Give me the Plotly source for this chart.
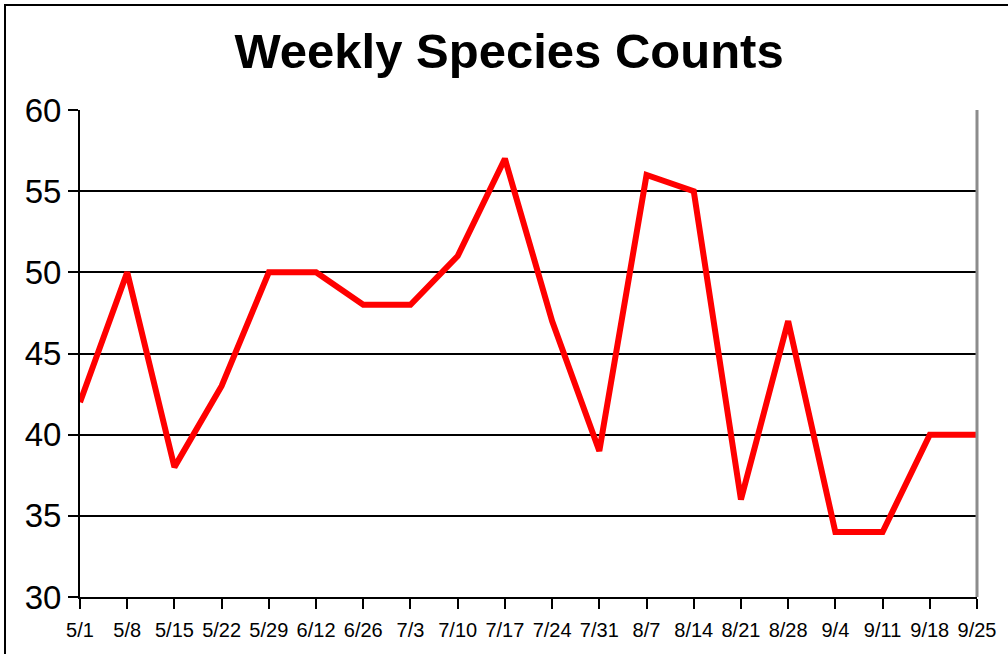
import plotly.graph_objects as go

weeks = ["5/1", "5/8", "5/15", "5/22", "5/29", "6/12", "6/26", "7/3", "7/10", "7/17",
         "7/24", "7/31", "8/7", "8/14", "8/21", "8/28", "9/4", "9/11", "9/18", "9/25"]
species = [42, 50, 38, 43, 50, 50, 48, 48, 51, 57,
           47, 39, 56, 55, 36, 47, 34, 34, 40, 40]
y_ticks = [30, 35, 40, 45, 50, 55, 60]

FONT = "Liberation Sans, Arial, sans-serif"

fig = go.Figure()
fig.add_trace(go.Scatter(
    x=weeks, y=species, mode="lines",
    line=dict(color="#ff0000", width=6),
    cliponaxis=False,
))

fig.update_layout(
    width=1008, height=654,
    margin=dict(l=80, r=31, t=110, b=57),
    paper_bgcolor="white", plot_bgcolor="white",
    showlegend=False,
    title=dict(text="<b>Weekly Species Counts</b>", x=0.505, xanchor="center",
               y=0.923, yanchor="middle",
               font=dict(family=FONT, size=49, color="black")),
    font=dict(family=FONT, color="black"),
)

fig.update_xaxes(
    type="category", range=[0, len(weeks) - 1],
    showgrid=False, showline=True, linecolor="black", linewidth=2,
    ticks="outside", ticklen=10, tickwidth=2, tickcolor="black",
    tickfont=dict(size=20), tickangle=0, zeroline=False,
    ticklabelstandoff=4,
)
fig.update_yaxes(
    range=[30, 60], tickvals=y_ticks,
    showgrid=True, gridcolor="black", gridwidth=1.5,
    showline=True, linecolor="black", linewidth=2,
    ticks="outside", ticklen=10, tickwidth=2, tickcolor="black",
    tickfont=dict(size=33), zeroline=False,
)

# grey right-hand edge of the plot area
fig.add_shape(type="line", xref="paper", yref="paper", x0=1, x1=1, y0=0, y1=1,
              line=dict(color="#8c8c8c", width=3))
# outer chart frame
fig.add_shape(type="rect", xref="paper", yref="paper",
              x0=-75 / 897, y0=-1.0, x1=1.5, y1=(487 + 105) / 487,
              line=dict(color="black", width=2), layer="below")

fig.write_html("out.html")
